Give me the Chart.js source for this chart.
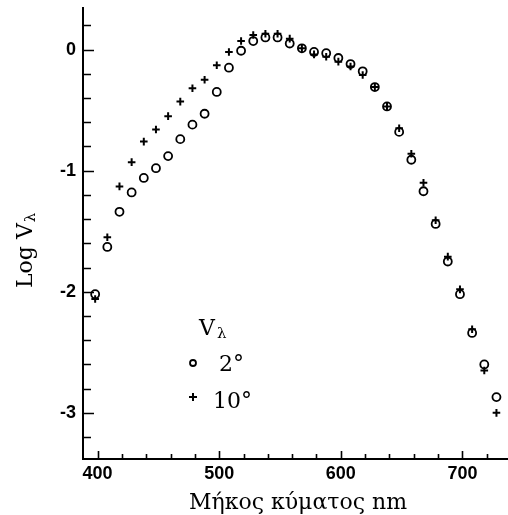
<!DOCTYPE html>
<html>
<head>
<meta charset="utf-8">
<script src="https://cdn.jsdelivr.net/npm/chart.js@4"></script>
<style>
  html, body { margin: 0; padding: 0; background: #fff; }
  canvas { display: block; }
</style>
</head>
<body>
<canvas id="sensitivity" width="508" height="515"></canvas>
<script>
// wavelength (nm) and log relative sensitivity for the two field sizes
const wavelengths = [398, 408, 418, 428, 438, 448, 458, 468, 478, 488, 498, 508, 518, 528, 538, 548, 558,
                     568, 578, 588, 598, 608, 618, 628, 638, 648, 658, 668, 678, 688, 698, 708, 718, 728];
const logV2deg = [-2.02, -1.63, -1.34, -1.18, -1.06, -0.98, -0.88, -0.74, -0.62, -0.53, -0.35, -0.15, -0.01, 0.07, 0.10, 0.10, 0.05,
                  0.01, -0.02, -0.03, -0.07, -0.12, -0.18, -0.31, -0.47, -0.68, -0.91, -1.17, -1.44, -1.75, -2.02, -2.34, -2.60, -2.87];
const logV10deg = [-2.06, -1.55, -1.13, -0.93, -0.76, -0.66, -0.55, -0.43, -0.32, -0.25, -0.13, -0.02, 0.07, 0.12, 0.13, 0.13, 0.09,
                   0.01, -0.04, -0.06, -0.10, -0.14, -0.21, -0.31, -0.47, -0.65, -0.86, -1.10, -1.41, -1.71, -1.98, -2.31, -2.65, -3.00];

const xTicks = [400, 420, 440, 460, 480, 500, 520, 540, 560, 580, 600, 620, 640, 660, 680, 700, 720];
const xLabels = [400, 500, 600, 700];
const yTicks = [-3.2, -3, -2.8, -2.6, -2.4, -2.2, -2, -1.8, -1.6, -1.4, -1.2, -1, -0.8, -0.6, -0.4, -0.2, 0, 0.2];
const yLabels = [-3, -2, -1, 0];

const serif = '"DejaVu Serif", serif';

// short tick marks pointing into the plot
const inwardTicks = {
  id: 'inwardTicks',
  beforeDatasetsDraw(chart) {
    const {ctx, chartArea, scales: {x, y}} = chart;
    ctx.save();
    ctx.strokeStyle = '#000';
    ctx.lineWidth = 1.6;
    ctx.beginPath();
    x.ticks.forEach(t => {
      const px = Math.round(x.getPixelForValue(t.value)) + 0.5;
      const len = xLabels.includes(t.value) ? 8 : 5;
      ctx.moveTo(px, chartArea.bottom);
      ctx.lineTo(px, chartArea.bottom - len);
    });
    y.ticks.forEach(t => {
      const py = Math.round(y.getPixelForValue(t.value)) + 0.5;
      const len = yLabels.includes(t.value) ? 11 : 8;
      ctx.moveTo(chartArea.left, py);
      ctx.lineTo(chartArea.left + len, py);
    });
    ctx.stroke();
    ctx.restore();
  }
};

// axis titles and the field-size key
const annotations = {
  id: 'annotations',
  afterDraw(chart) {
    const ctx = chart.ctx;
    ctx.save();
    ctx.fillStyle = '#000';
    ctx.strokeStyle = '#000';

    ctx.font = '22px ' + serif;
    ctx.textAlign = 'center';
    ctx.textBaseline = 'alphabetic';
    ctx.fillText('Μήκος κύματος nm', 298, 509);

    ctx.save();
    ctx.translate(32, 288);
    ctx.rotate(-Math.PI / 2);
    ctx.textAlign = 'left';
    ctx.font = '22px ' + serif;
    ctx.fillText('Log V', 0, 0);
    const w = ctx.measureText('Log V').width;
    ctx.font = '15px ' + serif;
    ctx.fillText('λ', w + 1, 3);
    ctx.restore();

    ctx.textAlign = 'left';
    ctx.font = '22px ' + serif;
    ctx.fillText('V', 199, 335);
    ctx.font = '15px ' + serif;
    ctx.fillText('λ', 217, 338);

    ctx.font = '22px ' + serif;
    ctx.fillText('2°', 219, 371);
    ctx.fillText('10°', 213, 408);

    ctx.lineWidth = 1.8;
    ctx.beginPath();
    ctx.arc(193, 363, 3, 0, Math.PI * 2);
    ctx.stroke();
    ctx.lineWidth = 2;
    ctx.beginPath();
    ctx.moveTo(189, 397); ctx.lineTo(197, 397);
    ctx.moveTo(193, 393); ctx.lineTo(193, 401);
    ctx.stroke();
    ctx.restore();
  }
};

const tickFont = {family: '"Liberation Sans", Arial, sans-serif', size: 18, weight: 'bold'};

new Chart(document.getElementById('sensitivity'), {
  type: 'scatter',
  data: {
    datasets: [
      {
        label: '2°',
        data: wavelengths.map((w, i) => ({x: w, y: logV2deg[i]})),
        pointStyle: 'circle',
        pointRadius: 4,
        pointBorderWidth: 1.8,
        borderColor: '#000',
        backgroundColor: 'rgba(0,0,0,0)'
      },
      {
        label: '10°',
        data: wavelengths.map((w, i) => ({x: w, y: logV10deg[i]})),
        pointStyle: 'cross',
        pointRadius: 3.8,
        pointBorderWidth: 2,
        borderColor: '#000',
        backgroundColor: '#000'
      }
    ]
  },
  options: {
    responsive: false,
    animation: false,
    layout: { autoPadding: false, padding: { top: 8, left: 0, right: 0, bottom: 0 } },
    plugins: {
      legend: { display: false },
      tooltip: { enabled: false }
    },
    scales: {
      x: {
        min: 388,
        max: 737.5,
        afterBuildTicks: (axis) => { axis.ticks = xTicks.map(v => ({value: v})); },
        afterFit: (axis) => {
          axis.height = 56;
          axis.paddingLeft = 0;
          axis.paddingRight = 0;
        },
        grid: { display: false, drawTicks: false },
        border: { display: true, color: '#000', width: 2 },
        ticks: {
          autoSkip: false,
          maxRotation: 0,
          minRotation: 0,
          padding: 4,
          color: '#000',
          font: tickFont,
          callback: (v) => xLabels.includes(v) ? String(v) : ''
        }
      },
      y: {
        min: -3.381,
        max: 0.343,
        afterBuildTicks: (axis) => { axis.ticks = yTicks.map(v => ({value: v})); },
        afterFit: (axis) => {
          axis.width = 83;
          axis.paddingTop = 0;
          axis.paddingBottom = 0;
        },
        grid: { display: false, drawTicks: false },
        border: { display: true, color: '#000', width: 2 },
        ticks: {
          autoSkip: false,
          padding: 7,
          color: '#000',
          font: tickFont,
          callback: (v) => yLabels.includes(v) ? String(v) : ''
        }
      }
    }
  },
  plugins: [inwardTicks, annotations]
});
</script>
</body>
</html>
